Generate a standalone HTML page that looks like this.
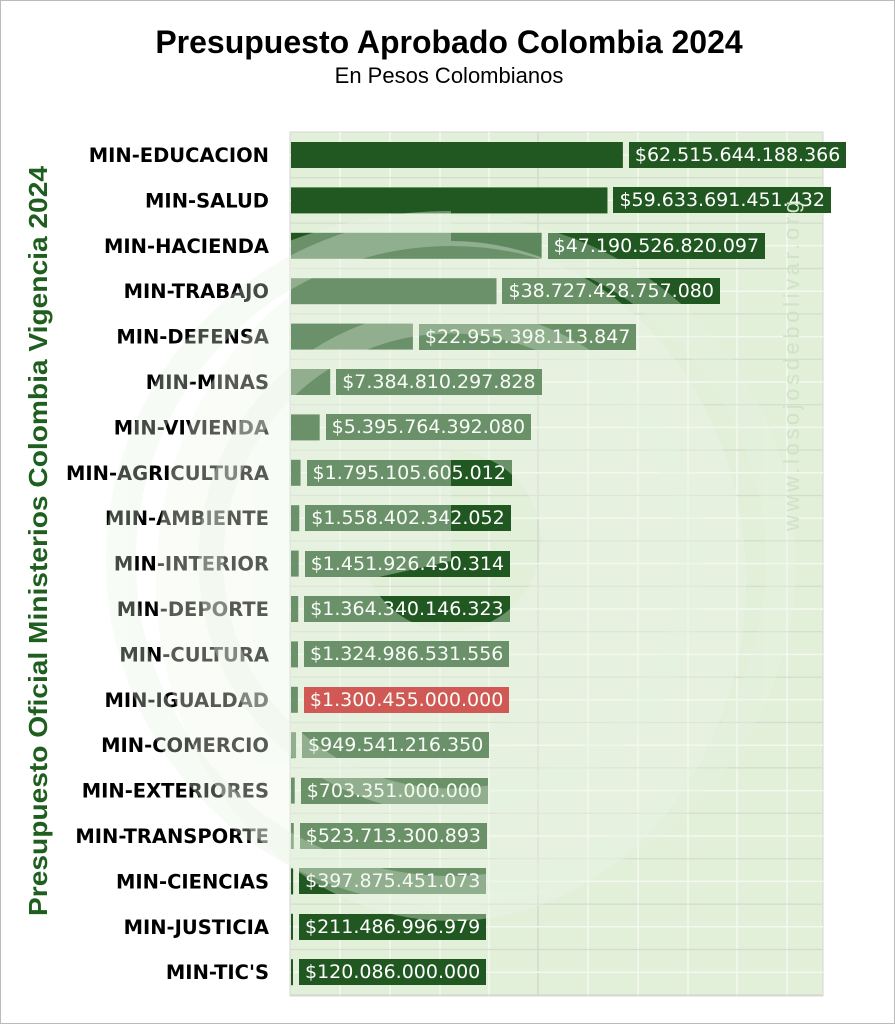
<!DOCTYPE html><html><head><meta charset="utf-8"><style>
body{margin:0;background:#fff}
#w{position:relative;width:893px;height:1022px;border:1px solid #bbb;overflow:hidden;font-family:"Liberation Sans",sans-serif}
</style></head><body><div id="w">
<svg width="893" height="1022" xmlns="http://www.w3.org/2000/svg" style="position:absolute;left:0;top:0">
<text x="448" y="52" text-anchor="middle" font-weight="bold" font-size="32" fill="#000">Presupuesto Aprobado Colombia 2024</text>
<text x="448" y="82" text-anchor="middle" font-size="22" fill="#000">En Pesos Colombianos</text>
<text transform="translate(46,540) rotate(-90)" text-anchor="middle" font-weight="bold" font-size="26" textLength="750" lengthAdjust="spacingAndGlyphs" fill="#1e5e1e">Presupuesto Oficial Ministerios Colombia Vigencia 2024</text>
<rect x="289" y="131" width="533" height="864" fill="#e2efd9" stroke="#d6d6d6"/>
<g stroke="#f4f9f0" stroke-width="1.5">
<line x1="339" y1="131" x2="339" y2="995"/><line x1="389" y1="131" x2="389" y2="995"/><line x1="439" y1="131" x2="439" y2="995"/><line x1="488" y1="131" x2="488" y2="995"/><line x1="587" y1="131" x2="587" y2="995"/><line x1="637" y1="131" x2="637" y2="995"/><line x1="687" y1="131" x2="687" y2="995"/><line x1="736" y1="131" x2="736" y2="995"/><line x1="786" y1="131" x2="786" y2="995"/>
</g>
<line x1="537" y1="131" x2="537" y2="995" stroke="#d2d2d2" stroke-width="1.2"/>
<g id="rows"></g>
</svg>
<div id="labs"></div>
<svg width="893" height="1022" style="position:absolute;left:0;top:0;pointer-events:none">
<defs><clipPath id="pc"><rect x="289" y="131" width="533" height="864"/></clipPath></defs>
<g fill="#eef7ea" opacity="0.36">
<path clip-path="url(#pc)" d="M 0 660 A 450 450 0 0 1 450 210 L 450 560 Z"/>
<path fill-rule="evenodd" d="M 155 580 A 295 340 0 1 0 745 580 A 295 340 0 1 0 155 580 Z M 360 540 A 90 90 0 1 0 540 540 A 90 90 0 1 0 360 540 Z"/>
</g>
<g fill="none" stroke="#e8f4e4" opacity="0.3">
<circle cx="450" cy="560" r="330" stroke-width="30"/>
<circle cx="450" cy="560" r="240" stroke-width="25"/>
</g>
<text transform="translate(798,365) rotate(-90)" text-anchor="middle" font-size="22" textLength="330" fill="#cfe3c8">www.losojosdebolivar.org</text>
</svg>
</div>
<script>
var d=[["MIN-EDUCACION","$62.515.644.188.366",62.5],["MIN-SALUD","$59.633.691.451.432",59.6],["MIN-HACIENDA","$47.190.526.820.097",47.2],["MIN-TRABAJO","$38.727.428.757.080",38.7],["MIN-DEFENSA","$22.955.398.113.847",22.96],["MIN-MINAS","$7.384.810.297.828",7.38],["MIN-VIVIENDA","$5.395.764.392.080",5.4],["MIN-AGRICULTURA","$1.795.105.605.012",1.8],["MIN-AMBIENTE","$1.558.402.342.052",1.56],["MIN-INTERIOR","$1.451.926.450.314",1.45],["MIN-DEPORTE","$1.364.340.146.323",1.36],["MIN-CULTURA","$1.324.986.531.556",1.32],["MIN-IGUALDAD","$1.300.455.000.000",1.3],["MIN-COMERCIO","$949.541.216.350",0.95],["MIN-EXTERIORES","$703.351.000.000",0.7],["MIN-TRANSPORTE","$523.713.300.893",0.52],["MIN-CIENCIAS","$397.875.451.073",0.4],["MIN-JUSTICIA","$211.486.996.979",0.21],["MIN-TIC'S","$120.086.000.000",0.12]];
var g=document.getElementById("rows"),s="",h="";
d.forEach(function(r,i){var cy=154+i*45.4;var w=Math.max(2,r[2]*5.31);var red=i==12;var c=red?"#c00000":"#215821";
s+='<line x1="289" x2="822" y1="'+(cy+22.7)+'" y2="'+(cy+22.7)+'" stroke="#d4dccf" stroke-width="1.2"/><line x1="289" x2="822" y1="'+cy+'" y2="'+cy+'" stroke="#f4f9f0" stroke-width="1.5"/>';
s+='<rect x="290" y="'+(cy-13)+'" width="'+w+'" height="26" fill="'+(red?"#215821":c)+'"/>';
s+='<text x="268" y="'+(cy+7)+'" text-anchor="end" font-weight="bold" font-size="19.5" font-family="DejaVu Sans" fill="#000">'+r[0]+'</text>';
h+='<div style="position:absolute;left:'+(290+w+6)+'px;top:'+(cy-13)+'px;height:26px;line-height:27px;padding:0 6px;background:'+c+';color:#fff;font-family:\'DejaVu Sans\',sans-serif;font-size:19px;white-space:nowrap">'+r[1]+'</div>';});
g.innerHTML=s;document.getElementById("labs").innerHTML=h;
</script>
</body></html>
